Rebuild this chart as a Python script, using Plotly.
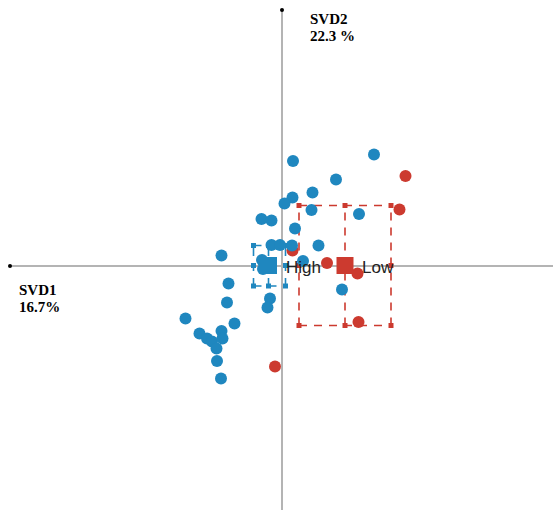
import plotly.graph_objects as go

# ---- data (SVD scores) ----
blue_x = [0.22, 1.84, 1.08, 0.61, 0.21, 0.05, 0.59, 1.54, -0.41, -0.21, 0.26, 0.73,
          -0.21, -0.04, 0.20, -1.21, -0.40, -0.38, 0.42, -1.07, 1.20, -1.10, -0.24,
          -0.29, -1.93, -0.95, -1.65, -1.50, -1.40, -1.21, -1.19, -1.31, -1.30, -1.22]
blue_y = [2.10, 2.23, 1.73, 1.47, 1.37, 1.25, 1.12, 1.04, 0.94, 0.91, 0.75, 0.41,
          0.42, 0.42, 0.41, 0.21, 0.12, -0.06, 0.10, -0.35, -0.47, -0.73, -0.65,
          -0.83, -1.05, -1.15, -1.35, -1.45, -1.51, -1.30, -1.45, -1.65, -1.90, -2.25]
red_x = [2.47, 2.35, 0.21, 0.90, 1.51, 1.53, -0.14]
red_y = [1.80, 1.13, 0.31, 0.06, -0.15, -1.12, -2.01]

groups = ["High", "Low"]
group_colors = ["#1f87bf", "#cc3a2f"]
centroid_x = [-0.27, 1.26]
centroid_y = [0.01, 0.01]
box_xlo = [-0.57, 0.34]
box_xhi = [0.07, 2.18]
box_ylo = [-0.40, -1.19]
box_yhi = [0.41, 1.21]

axis_x_label = ["SVD1", "16.7%"]
axis_y_label = ["SVD2", "22.3 %"]

XR = [-5.64, 5.42]
YR = [-4.88, 5.32]

fig = go.Figure()

# axis cross
fig.add_shape(type="line", x0=-5.44, x1=XR[1], y0=0, y1=0,
              line=dict(color="#b4b4b4", width=2), layer="below")
fig.add_shape(type="line", x0=0, x1=0, y0=YR[0], y1=5.12,
              line=dict(color="#b4b4b4", width=2), layer="below")
fig.add_trace(go.Scatter(x=[-5.44, 0], y=[0, 5.12], mode="markers",
                         marker=dict(color="black", size=4), hoverinfo="skip",
                         showlegend=False, cliponaxis=False))

# confidence boxes
for i, g in enumerate(groups):
    xl, xh, yl, yh = box_xlo[i], box_xhi[i], box_ylo[i], box_yhi[i]
    xm, ym = centroid_x[i], centroid_y[i]
    lx = [xl, xh, None, xl, xh, None, xl, xl, None, xm, xm, None, xh, xh]
    ly = [yh, yh, None, yl, yl, None, yl, yh, None, yl, yh, None, yl, yh]
    fig.add_trace(go.Scatter(x=lx, y=ly, mode="lines",
                             line=dict(color=group_colors[i], width=1.6, dash="8px,7px"),
                             hoverinfo="skip", showlegend=False))
    mx = [xl, xm, xh, xl, xm, xh, xl, xh]
    my = [yh, yh, yh, yl, yl, yl, ym, ym]
    fig.add_trace(go.Scatter(x=mx, y=my, mode="markers",
                             marker=dict(symbol="square", size=5, color=group_colors[i]),
                             hoverinfo="skip", showlegend=False))

# individual points
fig.add_trace(go.Scatter(x=red_x, y=red_y, mode="markers", name="Low",
                         marker=dict(size=12, color=group_colors[1]), showlegend=False))
fig.add_trace(go.Scatter(x=blue_x, y=blue_y, mode="markers", name="High",
                         marker=dict(size=12, color=group_colors[0]), showlegend=False))

# centroids
fig.add_trace(go.Scatter(x=centroid_x, y=centroid_y, mode="markers",
                         marker=dict(symbol="square", size=17, color=group_colors),
                         showlegend=False))
for i, g in enumerate(groups):
    fig.add_annotation(x=centroid_x[i], y=centroid_y[i], text=g, showarrow=False,
                       xanchor="left", yanchor="middle", xshift=15, yshift=-2,
                       font=dict(family="Liberation Sans, Arial", size=17, color="#222"))

# axis labels
serif = "Liberation Serif, Times New Roman, serif"
fig.add_annotation(x=0.52, y=(266 - 18.5) / 50, text="<b>%s</b>" % axis_y_label[0],
                   showarrow=False, xanchor="left", yanchor="middle",
                   font=dict(family=serif, size=15, color="black"))
fig.add_annotation(x=0.52, y=(266 - 36) / 50, text="<b>%s</b>" % axis_y_label[1],
                   showarrow=False, xanchor="left", yanchor="middle",
                   font=dict(family=serif, size=15, color="black"))
fig.add_annotation(x=-5.30, y=(266 - 289.5) / 50, text="<b>%s</b>" % axis_x_label[0],
                   showarrow=False, xanchor="left", yanchor="middle",
                   font=dict(family=serif, size=15, color="black"))
fig.add_annotation(x=-5.30, y=(266 - 307) / 50, text="<b>%s</b>" % axis_x_label[1],
                   showarrow=False, xanchor="left", yanchor="middle",
                   font=dict(family=serif, size=15, color="black"))

fig.update_layout(
    width=553, height=510,
    margin=dict(l=0, r=0, t=0, b=0),
    paper_bgcolor="white", plot_bgcolor="white",
    xaxis=dict(range=XR, visible=False, fixedrange=True),
    yaxis=dict(range=YR, visible=False, fixedrange=True),
    showlegend=False,
    hovermode=False,
)

fig.write_html("out.html",
               config={"displayModeBar": False, "staticPlot": True},
               post_script="document.body.style.margin='0';document.body.style.overflow='hidden';")
